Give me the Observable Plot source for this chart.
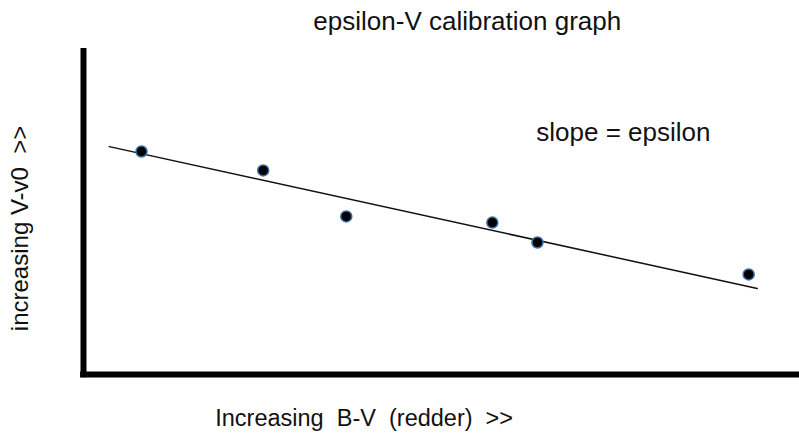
<!DOCTYPE html>
<html>
<head>
<meta charset="utf-8">
<script src="https://cdn.jsdelivr.net/npm/d3@7"></script>
<script src="https://cdn.jsdelivr.net/npm/@observablehq/plot@0.6"></script>
<style>
  html, body { margin: 0; padding: 0; background: #fff; }
  #chart svg { display: block; }
</style>
</head>
<body>
<div id="chart"></div>
<script>
// Schematic units (0-100)
const bv = [8.1, 25.1, 36.7, 57.1, 63.4, 92.9];
const vv0 = [68.4, 62.6, 48.5, 46.6, 40.5, 30.7];
const fitX = [3.6, 94.1];
const fitY = [69.9, 26.4];

const titleText = "epsilon-V calibration graph";
const xLabel = "Increasing\u00a0\u00a0B-V\u00a0\u00a0(redder)\u00a0\u00a0>>";
const yLabel = "increasing V-v0\u00a0\u00a0>>";
const slopeText = "slope = epsilon";

const points = bv.map((x, i) => ({x, y: vv0[i]}));
const fit = fitX.map((x, i) => ({x, y: fitY[i]}));

const font = "Liberation Sans, Arial, Helvetica, sans-serif";

const chart = Plot.plot({
  width: 799,
  height: 437,
  marginLeft: 83,
  marginRight: 0,
  marginTop: 48,
  marginBottom: 63,
  style: {fontFamily: font, background: "#fff"},
  x: {domain: [0, 100], axis: null},
  y: {domain: [0, 100], axis: null},
  marks: [
    Plot.ruleX([0], {y1: -1, y2: 100, stroke: "#000", strokeWidth: 6}),
    Plot.ruleY([0], {x1: -0.4, x2: 100, stroke: "#000", strokeWidth: 6}),
    Plot.line(fit, {x: "x", y: "y", stroke: "#111", strokeWidth: 1.5}),
    Plot.dot(points, {x: "x", y: "y", r: 5.5, fill: "#000", stroke: "#3b6fa8", strokeWidth: 1.5}),
    Plot.text([titleText], {x: 53.6, y: 108.2, text: d => d, fontSize: 26, fill: "#111"}),
    Plot.text([slopeText], {x: 75.4, y: 74.2, text: d => d, fontSize: 26, fill: "#111"}),
    Plot.text([xLabel], {x: 39.2, y: -13.5, text: d => d, fontSize: 23.5, fill: "#111"}),
    Plot.text([yLabel], {x: -8.8, y: 44.8, text: d => d, fontSize: 24, rotate: -90, fill: "#111"})
  ]
});
document.getElementById("chart").appendChild(chart);
</script>
</body>
</html>
